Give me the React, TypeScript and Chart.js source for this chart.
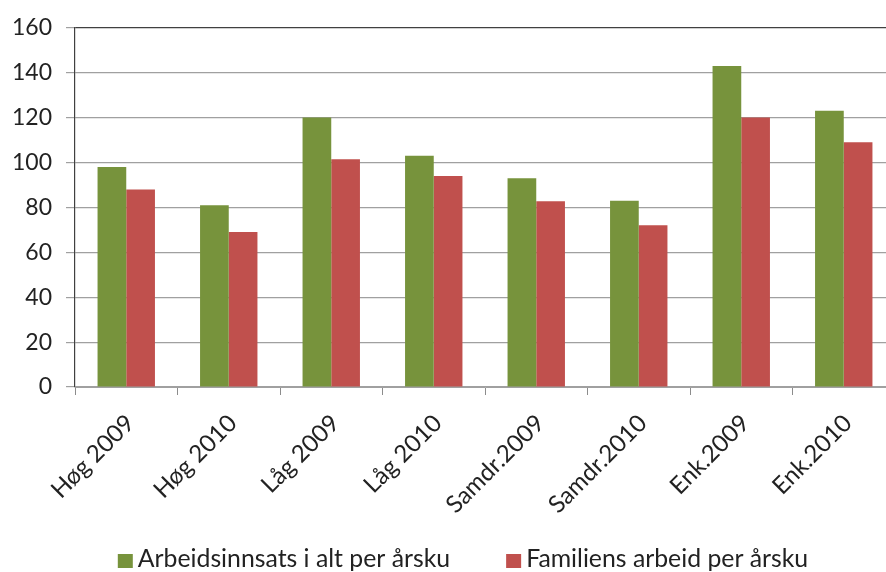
import React, { useEffect, useRef } from "react";
import { Chart, registerables } from "chart.js";

Chart.register(...registerables);

const categories = ["Høg 2009", "Høg 2010", "Låg 2009", "Låg 2010", "Samdr.2009", "Samdr.2010", "Enk.2009", "Enk.2010"];
const seriesNames = ["Arbeidsinnsats i alt per årsku", "Familiens arbeid per årsku"];
const seriesColors = ["#77933C", "#C0504D"];
const arbeidsinnsats = [98, 81, 120, 103, 93, 83, 143, 123];
const familiensArbeid = [88, 69, 101.5, 94, 82.7, 72, 120, 109];
const yTicks = { min: 0, max: 160, step: 20 };

const FONT = "Lato, 'Open Sans', sans-serif";
const TEXT = "#222";

const bottomLegend = {
  id: "bottomLegend",
  afterDraw(chart: any) {
    const ctx = chart.ctx as CanvasRenderingContext2D;
    const ds = chart.data.datasets;
    ctx.save();
    ctx.font = `24.8px ${FONT}`;
    ctx.textBaseline = "alphabetic";
    ctx.textAlign = "left";
    const box = 15, gapBoxText = 5, gapItems = 56;
    const widths = ds.map((d: any) => ctx.measureText(d.label).width);
    let total = 0;
    widths.forEach((w: number, i: number) => { total += box + gapBoxText + w + (i < widths.length - 1 ? gapItems : 0); });
    let x = 463 - total / 2;
    const baseline = 567;
    ds.forEach((d: any, i: number) => {
      ctx.fillStyle = d.backgroundColor;
      ctx.fillRect(x, baseline - 13, box, 14);
      ctx.fillStyle = TEXT;
      ctx.fillText(d.label, x + box + gapBoxText, baseline);
      x += box + gapBoxText + widths[i] + gapItems;
    });
    ctx.restore();
  },
};

export default function App() {
  const ref = useRef<HTMLCanvasElement | null>(null);
  useEffect(() => {
    if (!ref.current) return;
    const chart = new Chart(ref.current, {
      type: "bar",
      data: {
        labels: categories,
        datasets: [
          { label: seriesNames[0], data: arbeidsinnsats, backgroundColor: seriesColors[0], borderWidth: 0, categoryPercentage: 0.56, barPercentage: 1 },
          { label: seriesNames[1], data: familiensArbeid, backgroundColor: seriesColors[1], borderWidth: 0, categoryPercentage: 0.56, barPercentage: 1 },
        ],
      },
      options: {
        responsive: false,
        animation: false,
        devicePixelRatio: 1,
        layout: { padding: { left: 0, top: 27, right: 0, bottom: 50 } },
        plugins: {
          tooltip: { enabled: false },
          legend: { display: false },
        },
        scales: {
          x: {
            offset: true,
            grid: { drawOnChartArea: false, drawTicks: true, tickLength: 8, color: "#8c8c8c", offset: true },
            border: { color: "#a0a0a0", width: 1 },
            ticks: { autoSkip: false, maxRotation: 45, minRotation: 45, padding: 14, labelOffset: 4, color: TEXT, font: { family: FONT, size: 24 } },
            afterFit: (s: any) => { s.height = 135; },
          },
          y: {
            min: yTicks.min,
            max: yTicks.max,
            ticks: { stepSize: yTicks.step, padding: 14, color: TEXT, font: { family: FONT, size: 23 } },
            grid: {
              color: (ctx: any) => (ctx.tick && ctx.tick.value === yTicks.max ? "#404040" : "#a0a0a0"),
              lineWidth: 1.2,
              tickLength: 9,
              tickColor: "#a0a0a0",
            },
            border: { color: "#404040", width: 1.2 },
            afterFit: (s: any) => { s.width = 75; },
          },
        },
      },
      plugins: [bottomLegend],
    });
    return () => chart.destroy();
  }, []);
  return (
    <div style={{ position: "fixed", left: 0, top: 0, width: 886, height: 572, overflow: "hidden", background: "#fff" }}>
      <canvas ref={ref} width={895} height={572} style={{ display: "block" }} />
    </div>
  );
}
